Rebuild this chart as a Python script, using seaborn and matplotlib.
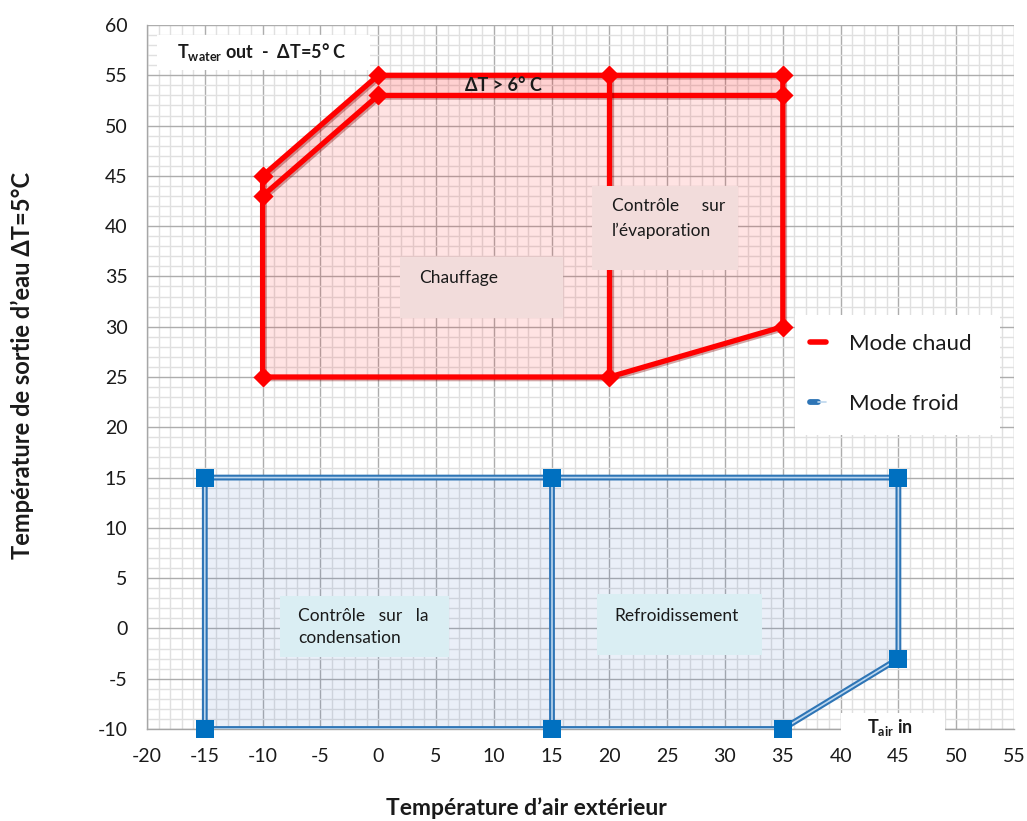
import matplotlib
matplotlib.use("Agg")
import matplotlib.pyplot as plt
import matplotlib.patheffects as pe
from matplotlib.patches import Rectangle
from matplotlib.lines import Line2D
from matplotlib.legend_handler import HandlerTuple
from matplotlib.ticker import MultipleLocator
import pandas as pd
import seaborn as sns

# Heating envelope (Mode chaud)
heat_outer_x = [-10, -10, 0, 35, 35, 20, -10]
heat_outer_y = [25, 45, 55, 55, 30, 25, 25]
heat_inner_x = [-10, 0, 35]
heat_inner_y = [43, 53, 53]
heat_split_x = [20, 20]
heat_split_y = [55, 25]
heat_pts_x = [-10, -10, 0, 0, 20, 35, 35, 35, 20, -10]
heat_pts_y = [45, 43, 55, 53, 55, 55, 53, 30, 25, 25]

# Cooling envelope (Mode froid)
cool_outer_x = [-15, 15, 45, 45, 35, 15, -15, -15]
cool_outer_y = [15, 15, 15, -3, -10, -10, -10, 15]
cool_split_x = [15, 15]
cool_split_y = [15, -10]
cool_pts_x = [-15, 15, 45, 45, 35, 15, -15]
cool_pts_y = [15, 15, 15, -3, -10, -10, -10]

x_ticks = list(range(-20, 56, 5))
y_ticks = list(range(-10, 61, 5))

sns.set_style("white")
plt.rcParams["font.family"] = ["Lato", "DejaVu Sans"]
plt.rcParams["mathtext.fontset"] = "custom"
plt.rcParams["mathtext.rm"] = "Lato"
plt.rcParams["mathtext.bf"] = "Lato:bold"
plt.rcParams["axes.unicode_minus"] = False

RED = "#ff0000"
BLUE_DARK = "#2e75b6"
BLUE_LIGHT = "#bdd7ee"
BLUE_MARK = "#0070c0"
TXT = "#1a1a1a"

fig = plt.figure(figsize=(10.27, 8.21), dpi=100)
ax = fig.add_axes([147 / 1027, 1 - 729 / 821, 867 / 1027, 704 / 821])

ax.set_xlim(-20, 55)
ax.set_ylim(-10, 60)
ax.xaxis.set_major_locator(MultipleLocator(5))
ax.yaxis.set_major_locator(MultipleLocator(5))
ax.xaxis.set_minor_locator(MultipleLocator(1))
ax.yaxis.set_minor_locator(MultipleLocator(1))
ax.grid(which="major", color="#adadad", linewidth=1.0)
ax.grid(which="minor", color="#e0e0e0", linewidth=1.0)
ax.set_axisbelow(True)
for s in ["top", "right"]:
    ax.spines[s].set_visible(False)
for s in ["left", "bottom"]:
    ax.spines[s].set_color("#a6a6a6")
    ax.spines[s].set_linewidth(1.0)
ax.tick_params(which="major", direction="out", length=6, color="#a6a6a6",
               labelsize=14, labelcolor=TXT, pad=8)
ax.tick_params(which="minor", length=0)
ax.set_xticks(x_ticks)
ax.set_yticks(y_ticks)

# Area fills
ax.fill(heat_outer_x, heat_outer_y, color=RED, alpha=0.11, lw=0, zorder=1)
band_x = heat_outer_x[1:4] + heat_inner_x[::-1]
band_y = heat_outer_y[1:4] + heat_inner_y[::-1]
ax.fill(band_x, band_y, color=RED, alpha=0.08, lw=0, zorder=1)
ax.fill(cool_outer_x, cool_outer_y, color="#4472c4", alpha=0.11, lw=0, zorder=1)

shadow = [pe.SimpleLineShadow(offset=(1.2, -1.2), shadow_color="#7f0000", alpha=0.35), pe.Normal()]

def path_df(xs, ys):
    return pd.DataFrame({"x": xs, "y": ys, "order": range(len(xs))})

# Heating lines
for xs, ys in [(heat_outer_x, heat_outer_y), (heat_inner_x, heat_inner_y), (heat_split_x, heat_split_y)]:
    line = sns.lineplot(data=path_df(xs, ys), x="x", y="y", sort=False, estimator=None,
                        color=RED, linewidth=3.8, ax=ax, zorder=3)
    line.lines[-1].set_path_effects(shadow)
    line.lines[-1].set_solid_joinstyle("miter")

# Cooling lines: dark outline with a light core
for xs, ys in [(cool_outer_x, cool_outer_y), (cool_split_x, cool_split_y)]:
    sns.lineplot(data=path_df(xs, ys), x="x", y="y", sort=False, estimator=None,
                 color=BLUE_DARK, linewidth=4.2, ax=ax, zorder=3)
    sns.lineplot(data=path_df(xs, ys), x="x", y="y", sort=False, estimator=None,
                 color=BLUE_LIGHT, linewidth=1.2, ax=ax, zorder=3.1)

sns.scatterplot(x=heat_pts_x, y=heat_pts_y, marker="D", s=105, color=RED,
                edgecolor=RED, linewidth=0, ax=ax, zorder=4)
sns.scatterplot(x=cool_pts_x, y=cool_pts_y, marker="s", s=175, color=BLUE_MARK,
                edgecolor=BLUE_MARK, linewidth=0, ax=ax, zorder=4, clip_on=False)
ax.set_xlabel("")
ax.set_ylabel("")

# Annotation boxes
def note_box(x0, y0, x1, y1, color, zorder=5, clip=True):
    ax.add_patch(Rectangle((x0, y0), x1 - x0, y1 - y0, facecolor=color,
                           edgecolor="none", zorder=zorder, clip_on=clip))

BOX_FS = 12.5
note_box(1.9, 30.9, 16.0, 36.9, "#f2dcdb")
ax.text(3.5, 34.8, "Chauffage", fontsize=BOX_FS, color=TXT, va="center", zorder=6)

note_box(18.5, 35.6, 31.1, 44.0, "#f2dcdb")
ax.text(20.2, 42.0, "Contrôle     sur", fontsize=BOX_FS, color=TXT, va="center", zorder=6)
ax.text(20.2, 39.5, "l’évaporation", fontsize=BOX_FS, color=TXT, va="center", zorder=6)

note_box(-8.5, -2.8, 6.1, 3.2, "#daeef3")
ax.text(-6.9, 1.2, "Contrôle   sur   la", fontsize=BOX_FS, color=TXT, va="center", zorder=6)
ax.text(-6.9, -1.0, "condensation", fontsize=BOX_FS, color=TXT, va="center", zorder=6)

note_box(18.9, -2.6, 33.2, 3.4, "#daeef3")
ax.text(20.4, 1.2, "Refroidissement", fontsize=BOX_FS, color=TXT, va="center", zorder=6)

ax.text(10.8, 53.95, "ΔT > 6° C", fontsize=13, fontweight="bold", color=TXT,
        ha="center", va="center", zorder=6)

note_box(-19.1, 55.5, -0.7, 59.0, "white")
ax.text(-17.4, 57.3, r"$\mathbf{T}_{\mathbf{water}}$ out  -  ΔT=5° C", fontsize=13,
        fontweight="bold", color=TXT, va="center", zorder=6)

note_box(40.0, -11.6, 49.0, -8.4, "white", clip=False)
ax.text(44.3, -9.9, r"$\mathbf{T}_{\mathbf{air}}$ in", fontsize=13, fontweight="bold",
        color=TXT, ha="center", va="center", zorder=6, clip_on=False)

# Legend
leg_bg = Rectangle((795 / 1027, 1 - 435 / 821), 205 / 1027, 120 / 821,
                   transform=fig.transFigure, facecolor="white", edgecolor="none", zorder=7)
fig.patches.append(leg_bg)
h_hot = Line2D([], [], color=RED, linewidth=4)
h_cold = (Line2D([], [], color=BLUE_DARK, linewidth=4.2),
          Line2D([], [], color=BLUE_LIGHT, linewidth=1.2))
leg = fig.legend([h_hot, h_cold], ["Mode chaud", "Mode froid"],
                 handler_map={tuple: HandlerTuple(ndivide=None, pad=0)},
                 loc="upper left", bbox_to_anchor=(792 / 1027, 1 - 316 / 821),
                 frameon=False, fontsize=16, handlelength=0.75, handletextpad=1.0,
                 labelspacing=1.82, borderpad=0.3)
leg.set_zorder(8)
for t in leg.get_texts():
    t.set_color(TXT)

fig.text(526 / 1027, 1 - 808 / 821, "Température d’air extérieur", fontsize=16.5,
         fontweight="bold", color=TXT, ha="center", va="center")
fig.text(22 / 1027, 1 - 365 / 821, "Température de sortie d’eau ΔT=5°C", fontsize=17,
         fontweight="bold", color=TXT, ha="center", va="center", rotation=90)

fig.savefig("out.png", dpi=100, facecolor="white")
